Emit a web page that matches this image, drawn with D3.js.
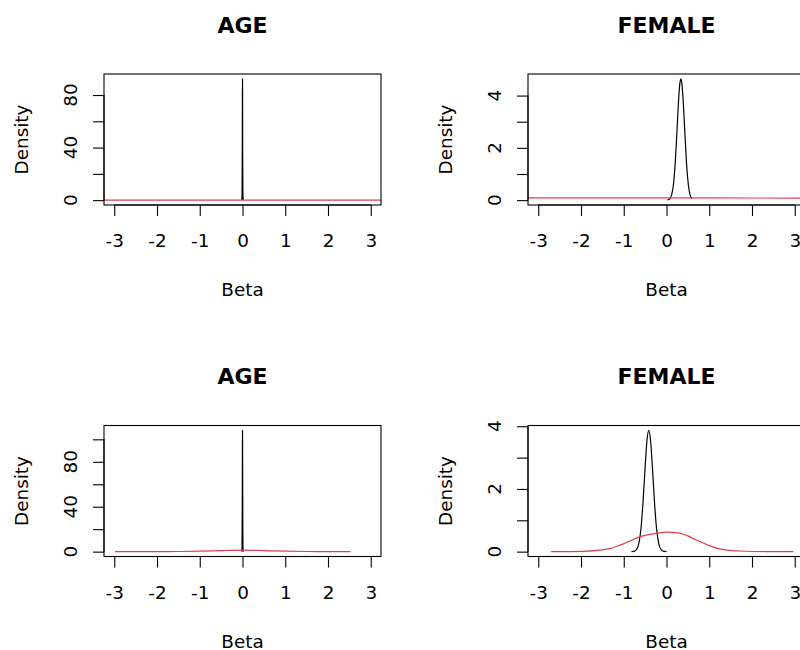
<!DOCTYPE html>
<html>
<head>
<meta charset="utf-8">
<script src="https://cdn.jsdelivr.net/npm/d3@7"></script>
<style>
  html, body { margin: 0; padding: 0; background: #fff; }
  svg { display: block; }
  text { font-family: "DejaVu Sans", sans-serif; fill: #000; }
</style>
</head>
<body>
<svg id="chart" width="800" height="650"></svg>
<script>
// ---------------- DATA ----------------
const panelTitles = ["AGE", "FEMALE", "AGE", "FEMALE"];
const xLabel = "Beta";
const yLabel = "Density";
const xTicks = [-3, -2, -1, 0, 1, 2, 3];

// y ticks (all tick marks) and labelled ticks per panel
const yTicksAgeTop = [0, 20, 40, 60, 80];
const yLabelsAgeTop = [0, 40, 80];
const yTicksFemaleTop = [0, 1, 2, 3, 4];
const yLabelsFemaleTop = [0, 2, 4];
const yTicksAgeBottom = [0, 20, 40, 60, 80, 100];
const yLabelsAgeBottom = [0, 40, 80];
const yTicksFemaleBottom = [0, 1, 2, 3, 4];
const yLabelsFemaleBottom = [0, 2, 4];

// posterior densities (black)
const postBetaAgeTop = [-0.02, -0.012, -0.008, -0.004, -0.002, 0, 0.002, 0.004, 0.008, 0.012, 0.02];
const postDensAgeTop = [0, 1.5, 16, 48, 78, 92.3, 80, 34, 12, 1.5, 0];

const postBetaFemaleTop = [0.02, 0.08, 0.12, 0.16, 0.2, 0.24, 0.28, 0.31, 0.336, 0.36, 0.39, 0.43, 0.47, 0.51, 0.55, 0.59];
const postDensFemaleTop = [0.005, 0.055, 0.2, 0.57, 1.33, 2.49, 3.75, 4.43, 4.64, 4.46, 3.81, 2.56, 1.38, 0.6, 0.21, 0.06];

const postBetaAgeBottom = [-0.02, -0.012, -0.008, -0.004, -0.002, 0, 0.002, 0.004, 0.008, 0.012, 0.02];
const postDensAgeBottom = [0, 1.5, 18, 60, 95, 108, 95, 60, 18, 1.5, 0];

const postBetaFemaleBottom = [-0.82, -0.75, -0.7, -0.65, -0.6, -0.55, -0.5, -0.46, -0.415, -0.37, -0.33, -0.28, -0.23, -0.18, -0.13, -0.08, 0.0];
const postDensFemaleBottom = [0.003, 0.014, 0.067, 0.245, 0.7, 1.56, 2.7, 3.5, 3.87, 3.5, 2.7, 1.56, 0.7, 0.245, 0.067, 0.014, 0.002];

// prior densities (red)
const priorBetaTop = [-4, -3, -2, -1, 0, 1, 2, 3, 4];
const priorDensTop = [0.084, 0.086, 0.087, 0.088, 0.088, 0.086, 0.083, 0.079, 0.075];

const priorBetaAgeBottom = [-2.98, -2, -1.5, -1, -0.5, 0, 0.5, 1, 1.5, 2, 2.53];
const priorDensAgeBottom = [0, 0.05, 0.15, 0.4, 0.9, 1.3, 0.9, 0.4, 0.15, 0.05, 0];

const priorBetaFemaleBottom = [-2.70, -1.96, -1.57, -1.33, -1.10, -0.86, -0.63, -0.39, -0.16, 0.0, 0.23, 0.47, 0.70, 0.94, 1.17, 1.41, 1.72, 2.35, 2.97];
const priorDensFemaleBottom = [0.0, 0.01, 0.05, 0.095, 0.20, 0.34, 0.47, 0.55, 0.60, 0.62, 0.61, 0.52, 0.37, 0.23, 0.11, 0.05, 0.02, 0.003, 0.0];

// ---------------- LAYOUT ----------------
const svg = d3.select("#chart");
const fontSize = 18.4;
const panels = [
  { ox: 0,   oy: 0,     title: panelTitles[0], yTicks: yTicksAgeTop, yLabs: yLabelsAgeTop,
    pb: postBetaAgeTop, pd: postDensAgeTop, rb: priorBetaTop, rd: priorDensTop },
  { ox: 424, oy: 0,     title: panelTitles[1], yTicks: yTicksFemaleTop, yLabs: yLabelsFemaleTop,
    pb: postBetaFemaleTop, pd: postDensFemaleTop, rb: priorBetaTop, rd: priorDensTop },
  { ox: 0,   oy: 351.5, title: panelTitles[2], yTicks: yTicksAgeBottom, yLabs: yLabelsAgeBottom,
    pb: postBetaAgeBottom, pd: postDensAgeBottom, rb: priorBetaAgeBottom, rd: priorDensAgeBottom },
  { ox: 424, oy: 351.5, title: panelTitles[3], yTicks: yTicksFemaleBottom, yLabs: yLabelsFemaleBottom,
    pb: postBetaFemaleBottom, pd: postDensFemaleBottom, rb: priorBetaFemaleBottom, rd: priorDensFemaleBottom }
];
const plotL = 104, plotR = 381, plotT = 74, plotB = 205;

panels.forEach((p, i) => {
  const g = svg.append("g").attr("transform", `translate(${p.ox},${p.oy})`);
  const x = d3.scaleLinear().domain([-3.24, 3.24]).range([plotL, plotR]);
  const ymax = d3.max(p.pd);
  const y = d3.scaleLinear().domain([-0.04 * ymax, 1.04 * ymax]).range([plotB, plotT]);

  const clipId = "clip" + i;
  g.append("clipPath").attr("id", clipId)
    .append("rect").attr("x", plotL).attr("y", plotT)
    .attr("width", plotR - plotL).attr("height", plotB - plotT);

  const line = d3.line().x(d => x(d[0])).y(d => y(d[1])).curve(d3.curveMonotoneX);

  const body = g.append("g").attr("clip-path", `url(#${clipId})`);
  body.append("path")
    .datum(p.pb.map((b, k) => [b, p.pd[k]]))
    .attr("d", line).attr("fill", "none")
    .attr("stroke", "#000").attr("stroke-width", 1.2);
  body.append("path")
    .datum(p.rb.map((b, k) => [b, p.rd[k]]))
    .attr("d", line).attr("fill", "none")
    .attr("stroke", "#E0404A").attr("stroke-width", 1.2);

  // box
  g.append("rect").attr("x", plotL).attr("y", plotT)
    .attr("width", plotR - plotL).attr("height", plotB - plotT)
    .attr("fill", "none").attr("stroke", "#000").attr("stroke-width", 1.1);

  // x axis
  const xa = g.append("g").attr("transform", `translate(0,${plotB})`)
    .call(d3.axisBottom(x).tickValues(xTicks).tickSize(11).tickSizeOuter(0).tickFormat(d3.format("d")));
  xa.select(".domain").remove();
  xa.append("line").attr("x1", x(xTicks[0])).attr("x2", x(xTicks[xTicks.length - 1]))
    .attr("y1", 0).attr("y2", 0).attr("stroke", "#000").attr("stroke-width", 1.1);
  xa.selectAll(".tick line").attr("stroke", "#000").attr("stroke-width", 1.1);
  xa.selectAll(".tick text").attr("y", 42).attr("dy", null)
    .style("font-size", fontSize + "px").style("font-family", "DejaVu Sans")
    .text(d => d < 0 ? "-" + Math.abs(d) : String(d));

  // y axis
  const ya = g.append("g").attr("transform", `translate(${plotL},0)`)
    .call(d3.axisLeft(y).tickValues(p.yTicks).tickSize(11).tickSizeOuter(0).tickFormat(""));
  ya.select(".domain").remove();
  ya.append("line").attr("x1", 0).attr("x2", 0)
    .attr("y1", y(p.yTicks[0])).attr("y2", y(p.yTicks[p.yTicks.length - 1]))
    .attr("stroke", "#000").attr("stroke-width", 1.1);
  ya.selectAll(".tick line").attr("stroke", "#000").attr("stroke-width", 1.1);
  ya.selectAll(".tick text").remove();
  g.selectAll(".ylab").data(p.yLabs).enter().append("text")
    .attr("class", "ylab")
    .attr("transform", d => `translate(${plotL - 27},${y(d)}) rotate(-90)`)
    .attr("text-anchor", "middle")
    .style("font-size", fontSize + "px")
    .text(d => String(d));

  // titles
  const cx = (plotL + plotR) / 2;
  g.append("text").attr("x", cx).attr("y", 32.7).attr("text-anchor", "middle")
    .style("font-size", "22px").style("font-weight", "bold").text(p.title);
  g.append("text").attr("x", cx).attr("y", 296).attr("text-anchor", "middle")
    .style("font-size", fontSize + "px").text(xLabel);
  g.append("text")
    .attr("transform", `translate(27.5,${(plotT + plotB) / 2}) rotate(-90)`)
    .attr("text-anchor", "middle")
    .style("font-size", fontSize + "px").text(yLabel);
});
</script>
</body>
</html>
